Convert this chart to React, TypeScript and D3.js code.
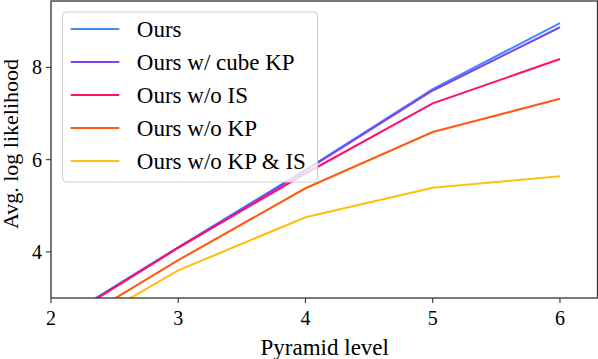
import React from "react";
import * as d3 from "d3";

const levels = [2, 3, 4, 5, 6];
const seriesNames = ["Ours", "Ours w/ cube KP", "Ours w/o IS", "Ours w/o KP", "Ours w/o KP & IS"];
const ours = [2.4, 4.1, 5.78, 7.53, 8.96];
const oursCube = [2.38, 4.09, 5.76, 7.5, 8.87];
const oursNoIS = [2.37, 4.09, 5.7, 7.22, 8.18];
const oursNoKP = [2.15, 3.82, 5.38, 6.6, 7.32];
const oursNoKPIS = [2.0, 3.6, 4.75, 5.39, 5.64];
const xTicks = [2, 3, 4, 5, 6];
const yTicks = [4, 6, 8];
const colors = ["#3f8cff", "#7f44ee", "#ff0f6e", "#ff5a10", "#ffbf10"];

const W = 598;
const H = 359;
const M = { left: 51, right: 0.5, top: 1, bottom: 61 };
const FONT = "'Liberation Serif', 'DejaVu Serif', serif";

export default function App() {
  const x = d3.scaleLinear().domain([2, 6.295]).range([M.left, W - M.right]);
  const y = d3.scaleLinear().domain([3, 9.44]).range([H - M.bottom, M.top]);
  const all = [ours, oursCube, oursNoIS, oursNoKP, oursNoKPIS];
  const line = d3
    .line<number>()
    .x((_, i) => x(levels[i]))
    .y((d) => y(d));
  const x0 = M.left;
  const x1 = W - M.right;
  const y0 = M.top;
  const y1 = H - M.bottom;
  const legX = 62.5;
  const legY = 12;
  const legW = 255;
  const legH = 170;
  return (
    <svg
      width={W}
      height={H}
      style={{ position: "absolute", left: 0, top: 0, background: "#fff" }}
      fontFamily={FONT}
    >
      <defs>
        <clipPath id="plotclip">
          <rect x={x0} y={y0} width={x1 - x0} height={y1 - y0} />
        </clipPath>
      </defs>
      <g clipPath="url(#plotclip)">
        {all.map((s, i) => (
          <path key={i} d={line(s) || ""} fill="none" stroke={colors[i]} strokeWidth={2.1} />
        ))}
      </g>
      {/* legend */}
      <rect
        x={legX}
        y={legY}
        width={legW}
        height={legH}
        rx={4}
        fill="#fff"
        fillOpacity={0.8}
        stroke="#cccccc"
        strokeWidth={1}
      />
      {seriesNames.map((n, i) => {
        const ly = 29 + i * 33;
        return (
          <g key={n}>
            <line x1={70.7} x2={119.3} y1={ly} y2={ly} stroke={colors[i]} strokeWidth={2.1} />
            <text x={136.8} y={ly + 8} fontSize={23} fill="#000">
              {n}
            </text>
          </g>
        );
      })}
      {/* axes box */}
      <rect x={x0} y={y0} width={x1 - x0} height={y1 - y0} fill="none" stroke="#333" strokeWidth={1.3} />
      {xTicks.map((t) => (
        <g key={"x" + t}>
          <line x1={x(t)} x2={x(t)} y1={y1} y2={y1 + 5} stroke="#333" strokeWidth={1.1} />
          <text x={x(t)} y={y1 + 27} fontSize={20} textAnchor="middle" fill="#000">
            {t}
          </text>
        </g>
      ))}
      {yTicks.map((t) => (
        <g key={"y" + t}>
          <line x1={x0 - 5} x2={x0} y1={y(t)} y2={y(t)} stroke="#333" strokeWidth={1.1} />
          <text x={x0 - 9} y={y(t) + 7} fontSize={20} textAnchor="end" fill="#000">
            {t}
          </text>
        </g>
      ))}
      <text x={(x0 + x1) / 2 + 0.5} y={355} fontSize={23} textAnchor="middle" fill="#000">
        Pyramid level
      </text>
      <text
        transform={`translate(17.5, 144) rotate(-90)`}
        fontSize={22}
        textAnchor="middle"
        fill="#000"
      >
        Avg. log likelihood
      </text>
    </svg>
  );
}
